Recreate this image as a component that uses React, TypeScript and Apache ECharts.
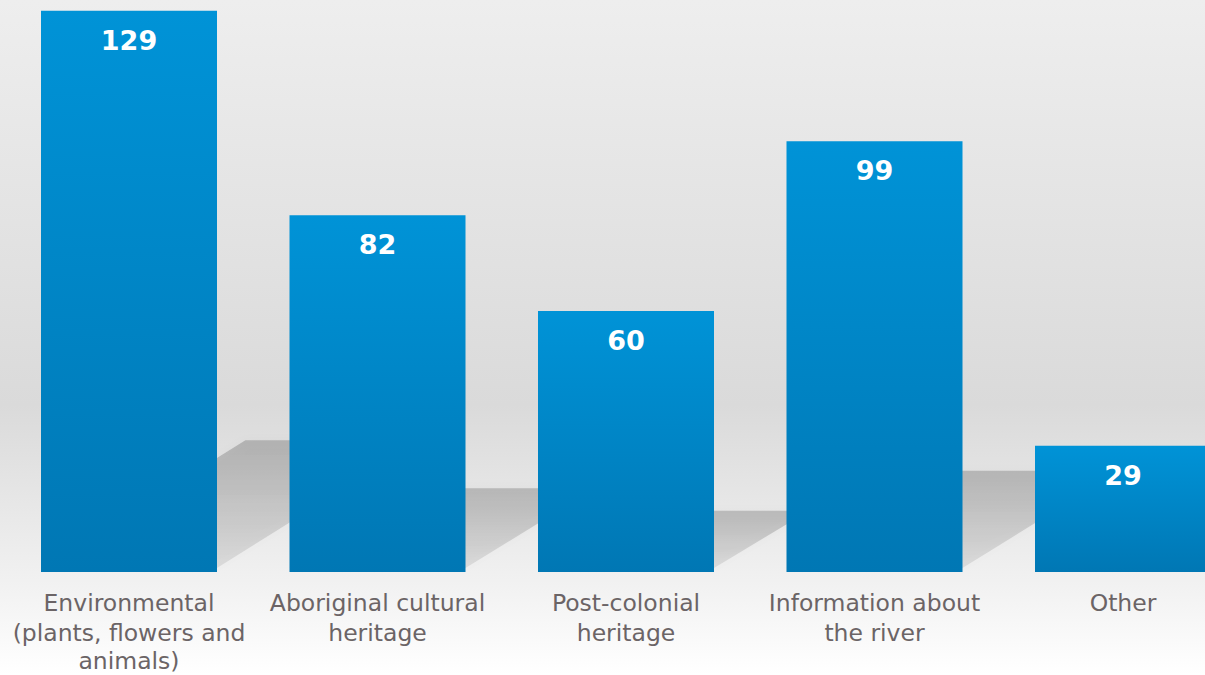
import React, { useEffect, useRef } from "react";
import * as echarts from "echarts";

const categories = [
  "Environmental\n(plants, flowers and\nanimals)",
  "Aboriginal cultural\nheritage",
  "Post-colonial\nheritage",
  "Information about\nthe river",
  "Other",
];
const values = [129, 82, 60, 99, 29];

const BAR_WIDTH = 176;
const BAND = 248.5;

export default function App() {
  const ref = useRef<HTMLDivElement>(null);
  useEffect(() => {
    if (!ref.current) return;
    const chart = echarts.init(ref.current, null, { renderer: "svg" });
    const labelBase = {
      color: "#6b6466",
      fontFamily: "DejaVu Sans",
      fontSize: 23.5,
    };
    const option: any = {
      animation: false,
      backgroundColor: {
        type: "linear",
        x: 0, y: 0, x2: 0, y2: 1,
        colorStops: [
          { offset: 0, color: "#eeeeee" },
          { offset: 0.6, color: "#dadada" },
          { offset: 0.86, color: "#f1f1f1" },
          { offset: 1, color: "#ffffff" },
        ],
      },
      grid: {
        left: 4.75,
        top: 0,
        width: BAND * categories.length,
        height: 572,
        outerBoundsMode: "none",
        containLabel: false,
      },
      xAxis: {
        type: "category",
        data: categories,
        axisLine: { show: false },
        axisTick: { show: false },
        axisLabel: {
          interval: 0,
          margin: 16,
          ...labelBase,
          lineHeight: 30,
          formatter: (val: string) =>
            val
              .split("\n")
              .map((line, idx) => (idx >= 2 ? `{b|${line}}` : `{a|${line}}`))
              .join("\n"),
          rich: {
            a: { ...labelBase, lineHeight: 30 },
            b: { ...labelBase, lineHeight: 26 },
          },
        },
      },
      yAxis: {
        type: "value",
        min: 0,
        max: 131.5,
        show: false,
        splitLine: { show: false },
      },
      series: [
        {
          type: "custom",
          z: 1,
          silent: true,
          clip: false,
          data: values.map((v, i) => [i, v]),
          renderItem: (params: any, api: any) => {
            const i = api.value(0);
            const v = api.value(1);
            const base = api.coord([i, 0]);
            const top = api.coord([i, v]);
            const h = base[1] - top[1];
            const sh = h * 0.235;
            const dx = sh * 1.55;
            const xL = base[0] - BAR_WIDTH / 2;
            const xR = base[0] + BAR_WIDTH / 2;
            return {
              type: "polygon",
              shape: {
                points: [
                  [xL, base[1] - 4],
                  [xR, base[1] - 4],
                  [xR + dx, base[1] - sh],
                  [xL + dx, base[1] - sh],
                ],
              },
              style: {
                fill: {
                  type: "linear",
                  x: 0, y: 0, x2: 0, y2: 1,
                  colorStops: [
                    { offset: 0, color: "rgba(0,0,0,0.19)" },
                    { offset: 0.4, color: "rgba(0,0,0,0.15)" },
                    { offset: 1, color: "rgba(0,0,0,0.08)" },
                  ],
                },
                shadowBlur: 10,
                shadowColor: "rgba(0,0,0,0.12)",
              },
            };
          },
        },
        {
          type: "bar",
          z: 2,
          data: values,
          barWidth: BAR_WIDTH,
          itemStyle: {
            color: {
              type: "linear",
              x: 0, y: 0, x2: 0, y2: 1,
              colorStops: [
                { offset: 0, color: "#0093d7" },
                { offset: 1, color: "#0077b4" },
              ],
            },
          },
          label: {
            show: true,
            position: "insideTop",
            distance: 16,
            color: "#ffffff",
            fontFamily: "DejaVu Sans",
            fontWeight: "bold",
            fontSize: 27,
          },
        },
      ],
    };
    chart.setOption(option);
    return () => chart.dispose();
  }, []);
  return (
    <div
      ref={ref}
      style={{ position: "absolute", left: 0, top: 0, width: 1205, height: 675 }}
    />
  );
}
